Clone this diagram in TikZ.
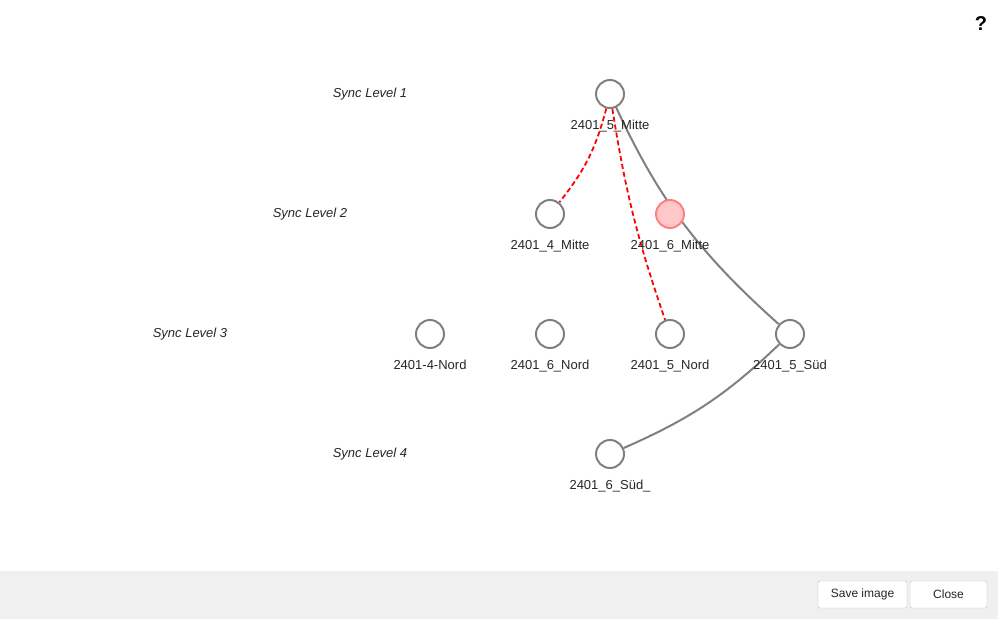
\documentclass[tikz,border=0pt]{standalone}
\usepackage{fontspec}
\setmainfont{Liberation Sans}
\usetikzlibrary{positioning}
\pgfdeclarelayer{bg}
\pgfsetlayers{bg,main}

\begin{document}
\begin{tikzpicture}[x=1pt, y=-1pt,
    syncnode/.style={circle, draw=black!50, line width=2pt, fill=white, minimum size=28pt, inner sep=0pt},
    hinode/.style={syncnode, draw=red!50, fill=red!22},
    lbl/.style={font=\fontsize{13}{15}\selectfont, text=black!85},
    lvl/.style={font=\fontsize{13}{15}\selectfont\itshape, text=black!85},
    link/.style={draw=black!50, line width=2pt},
    redlink/.style={draw=red, line width=1.8pt, dash pattern=on 5pt off 3pt}
]
    \useasboundingbox (0,0) rectangle (998,619);
    \fill[black!6] (0,571) rectangle (998,619);

    % sync levels
    \node[lvl] (lvA) at (370,94) {Sync Level 1};
    \node[lvl] (lvB) at (310,214) {Sync Level 2};
    \node[lvl] (lvC) at (190,334) {Sync Level 3};
    \node[lvl] (lvD) at (370,454) {Sync Level 4};

    % nodes
    \node[syncnode] (m5) at (610,94) {};
    \node[syncnode] (m4) at (550,214) {};
    \node[hinode] (m6) at (670,214) {};
    \node[syncnode] (n4) at (430,334) {};
    \node[syncnode] (n6) at (550,334) {};
    \node[syncnode] (n5) at (670,334) {};
    \node[syncnode] (s5) at (790,334) {};
    \node[syncnode] (s6) at (610,454) {};

    \node[lbl, below=8pt of m5] (tm5) {2401\_5\_Mitte};
    \node[lbl, below=8pt of m4] (tm4) {2401\_4\_Mitte};
    \node[lbl, below=8pt of m6] (tm6) {2401\_6\_Mitte};
    \node[lbl, below=8pt of n4] (tn4) {2401-4-Nord};
    \node[lbl, below=8pt of n6] (tn6) {2401\_6\_Nord};
    \node[lbl, below=8pt of n5] (tn5) {2401\_5\_Nord};
    \node[lbl, below=8pt of s5] (ts5) {2401\_5\_Süd};
    \node[lbl, below=8pt of s6] (ts6) {2401\_6\_Süd\_};

    % links
    \begin{pgfonlayer}{bg}
    \draw[redlink] (m5) to[bend left=12] (m4);
    \draw[redlink] (m5) to[bend right=5] (n5);
    \draw[link] (m5.center) to[bend right=12] (s5);
    \draw[link] (s5) to[bend left=10] (s6);
    \end{pgfonlayer}

    % buttons
    \node[font=\bfseries\fontsize{20}{22}\selectfont] (help) at (981,24) {?};
    \node[draw=black!25, fill=white, rounded corners=2pt, minimum width=89pt, minimum height=27pt, font=\fontsize{12}{14}\selectfont, text=black!85] (save) at (862.5,594.5) {Save image};
    \node[draw=black!25, fill=white, rounded corners=2pt, minimum width=77pt, minimum height=27pt, font=\fontsize{12}{14}\selectfont, text=black!85] (close) at (948.5,594.5) {Close};
\end{tikzpicture}
\end{document}
